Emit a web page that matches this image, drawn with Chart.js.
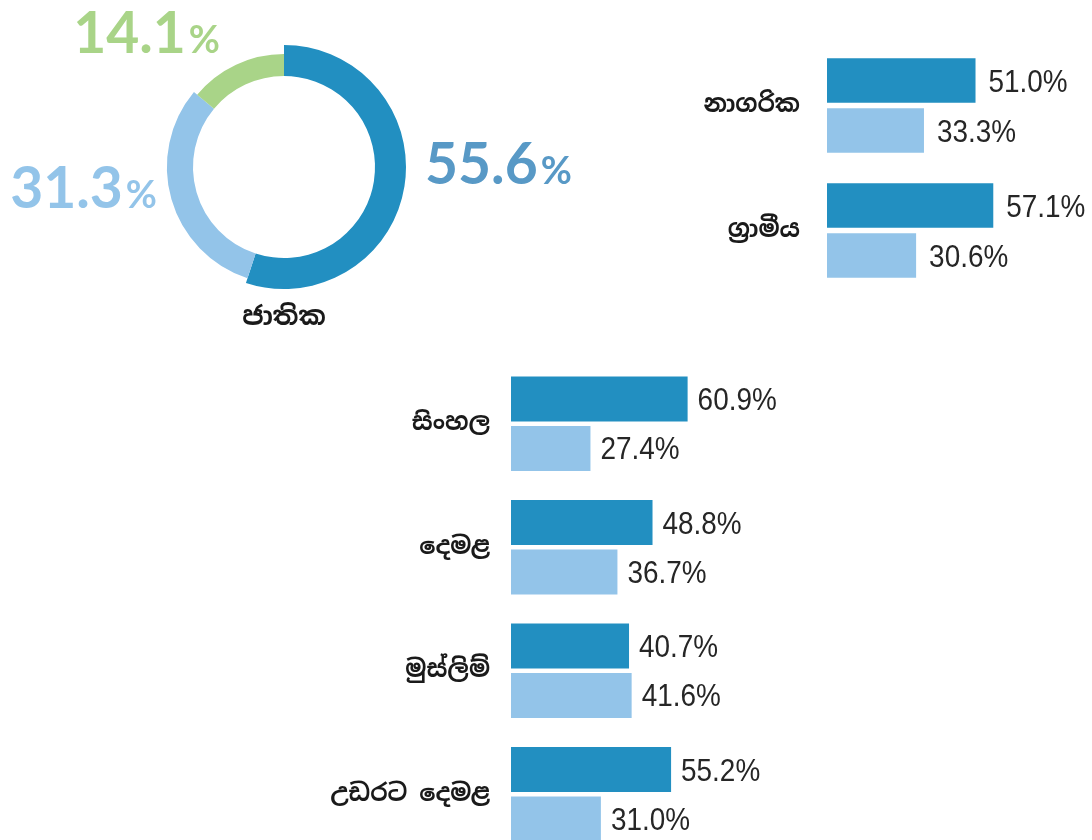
<!DOCTYPE html>
<html>
<head>
<meta charset="utf-8">
<script src="https://cdn.jsdelivr.net/npm/chart.js@4.4.1/dist/chart.umd.min.js"></script>
<style>
  html, body { margin: 0; padding: 0; background: #fff; }
  body { width: 1092px; height: 840px; overflow: hidden; position: relative; }
  .box { position: absolute; }
</style>
</head>
<body>
<div class="box" style="left:0;top:0"><canvas id="donut" width="600" height="340"></canvas></div>
<div class="box" style="left:700px;top:43px"><canvas id="area" width="392" height="250"></canvas></div>
<div class="box" style="left:0;top:362px"><canvas id="ethnic" width="801" height="494"></canvas></div>
<script>
// data
const nationalTitle = 'ජාතික';
const nationalShare = [55.6, 31.3, 14.1];

const areaCategories = ['නාගරික', 'ග්\u200Dරාමීය'];
const areaDark = [51.0, 57.1];
const areaLight = [33.3, 30.6];

const ethnicCategories = ['සිංහල', 'දෙමළ', 'මුස්ලිම්', 'උඩරට දෙමළ'];
const ethnicDark = [60.9, 48.8, 40.7, 55.2];
const ethnicLight = [27.4, 36.7, 41.6, 31.0];

// colours
const darkBlue = '#228fc1';
const lightBlue = '#93c4e9';
const green = '#a9d488';

Chart.defaults.animation = false;
Chart.defaults.events = [];
Chart.defaults.plugins.legend.display = false;
Chart.defaults.plugins.tooltip.enabled = false;

// doughnut: each slice has its own outer radius, labels outside
const ringScale = [1, 0.96, 0.926];
const donutLabelPos = [[141, 17, 'left'], [-127, 41, 'right'], [-64, -114, 'right']];
const donutLabelColors = ['#5899c6', '#93c4e9', '#a9d488'];

const donutPlugin = {
    id: 'donutExtras',
    beforeDatasetsDraw(chart) {
        const meta = chart.getDatasetMeta(0);
        meta.data.forEach((arc, i) => {
            arc.outerRadius = meta.controller.outerRadius * ringScale[i];
        });
    },
    afterDraw(chart) {
        const ctx = chart.ctx;
        const meta = chart.getDatasetMeta(0);
        const cx = meta.data[0].x, cy = meta.data[0].y;
        ctx.save();
        ctx.textBaseline = 'alphabetic';
        chart.data.datasets[0].data.forEach((v, i) => {
            const num = v.toFixed(1);
            ctx.font = 'bold 57px Lato, "Open Sans", sans-serif';
            const wNum = ctx.measureText(num).width;
            ctx.font = 'bold 38px Lato, "Open Sans", sans-serif';
            const wPct = ctx.measureText('%').width;
            const gap = 3;
            const pos = donutLabelPos[i];
            let x = cx + pos[0];
            if (pos[2] === 'right') x -= wNum + gap + wPct;
            const y = cy + pos[1];
            ctx.fillStyle = donutLabelColors[i];
            ctx.font = 'bold 57px Lato, "Open Sans", sans-serif';
            ctx.fillText(num, x, y);
            ctx.font = 'bold 38px Lato, "Open Sans", sans-serif';
            ctx.fillText('%', x + wNum + gap, y);
        });
        ctx.font = 'bold 26px "Noto Sans Sinhala", "Iskoola Pota", sans-serif';
        ctx.fillStyle = '#1a1a1a';
        ctx.textAlign = 'center';
        ctx.textBaseline = 'middle';
        ctx.fillText(nationalTitle, cx, cy + 151);
        ctx.restore();
    }
};

new Chart(document.getElementById('donut'), {
    type: 'doughnut',
    data: {
        labels: ['a', 'b', 'c'],
        datasets: [{
            data: nationalShare,
            backgroundColor: [darkBlue, lightBlue, green],
            borderWidth: 0
        }]
    },
    options: {
        responsive: false,
        cutout: '74.6%',
        layout: { padding: { left: 162, top: 45, right: 194, bottom: 51 } }
    },
    plugins: [donutPlugin]
});

// value labels at the end of every bar (condensed look)
const barValuePlugin = {
    id: 'barValues',
    afterDatasetsDraw(chart, args, opts) {
        const ctx = chart.ctx;
        chart.data.datasets.forEach((ds, d) => {
            chart.getDatasetMeta(d).data.forEach((bar, i) => {
                ctx.save();
                ctx.font = '31px "Liberation Sans Narrow", "Liberation Sans", Arial, sans-serif';
                ctx.fillStyle = '#262626';
                ctx.textAlign = 'left';
                ctx.textBaseline = 'alphabetic';
                ctx.translate(bar.x + opts.gap, bar.y + 11);
                ctx.scale(0.9, 1);
                ctx.fillText(ds.data[i].toFixed(1) + '%', 0, 0);
                ctx.restore();
            });
        });
    }
};

function makeBars(id, labels, dark, light, axisWidth, pad, xMax, gap, barPct) {
    return new Chart(document.getElementById(id), {
        type: 'bar',
        data: {
            labels: labels,
            datasets: [
                { data: dark, backgroundColor: darkBlue, borderWidth: 0 },
                { data: light, backgroundColor: lightBlue, borderWidth: 0 }
            ]
        },
        options: {
            responsive: false,
            indexAxis: 'y',
            categoryPercentage: 0.8,
            barPercentage: barPct,
            layout: { padding: 0 },
            scales: {
                x: { display: false, min: 0, max: xMax },
                y: {
                    grid: { display: false, drawTicks: false },
                    border: { display: false },
                    ticks: {
                        padding: pad,
                        color: '#1a1a1a',
                        font: { family: '"Noto Sans Sinhala", "Iskoola Pota", sans-serif', size: 24, weight: 'bold' }
                    },
                    afterFit(scale) {
                        scale.width = axisWidth;
                        scale.paddingTop = 0;
                        scale.paddingBottom = 0;
                    }
                }
            },
            plugins: { barValues: { gap: gap } }
        },
        plugins: [barValuePlugin]
    });
}

// 2.9 px per percent in both bar charts
makeBars('area', areaCategories, areaDark, areaLight, 127, 27, 91, 13, 0.89);
makeBars('ethnic', ethnicCategories, ethnicDark, ethnicLight, 511, 21, 100, 10, 0.913);
</script>
</body>
</html>
